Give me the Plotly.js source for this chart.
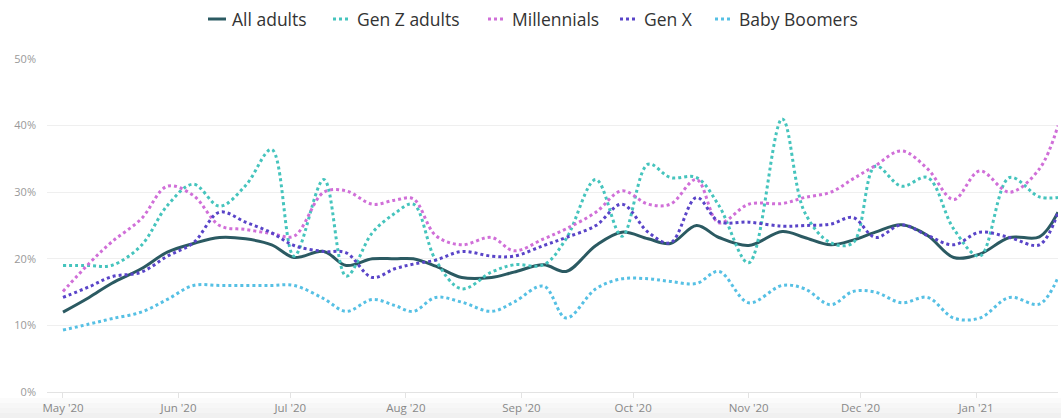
<!DOCTYPE html>
<html>
<head>
<meta charset="utf-8">
<script src="https://cdn.plot.ly/plotly-3.0.1.min.js"></script>
<style>
html,body{margin:0;padding:0;background:#fff;}
#chart{width:1061px;height:418px;}
</style>
</head>
<body>
<div id="chart"></div>
<script>
const dates = ["2020-05-01","2020-05-08","2020-05-14","2020-05-22","2020-05-29","2020-06-05","2020-06-12","2020-06-19","2020-06-26","2020-07-02","2020-07-10","2020-07-16","2020-07-23","2020-07-29","2020-08-03","2020-08-09","2020-08-16","2020-08-24","2020-08-30","2020-09-07","2020-09-13","2020-09-21","2020-09-28","2020-10-05","2020-10-11","2020-10-18","2020-10-24","2020-11-01","2020-11-10","2020-11-16","2020-11-23","2020-11-29","2020-12-05","2020-12-12","2020-12-19","2020-12-26","2021-01-02","2021-01-10","2021-01-18","2021-01-23"];

const allAdults   = [12,14.2,16.3,18.5,21,22.3,23.2,23,22.1,20.2,21.1,19,20,20,20,18.9,17.2,17.2,18,19.1,18.1,22,24,23,22.3,25,23.2,22,24.1,23.2,22.1,22.8,24,25.1,23.5,20.2,20.7,23.2,23.3,27];
const genZ        = [19,19,19,22,28,31.2,27.9,31,36.4,20.4,31.9,17.4,23.9,26.8,28.2,19.8,15.5,18,19.1,19.1,23,31.9,23.4,34.2,32.2,32.2,28,19.4,41,27,22.4,22.4,33.9,30.9,32.2,24.5,20.4,32.2,29.3,29.2];
const millennials = [15.1,19.3,22.5,26,30.9,29.5,25,24.4,23.8,23.4,30,30.2,28.2,28.8,29,23.5,22.1,23.2,21.2,23,24.5,27,30.2,28.2,28.2,31.9,25.4,28.2,28.3,29.2,30,32,34,36.2,33.5,28.9,33.2,30,33.5,40];
const genX        = [14.2,15.8,17.3,18,20.4,22.4,27,25.5,23.9,22,21.1,20.9,17.2,18.5,19.2,19.8,21.1,20.4,20.4,22,23.2,25,28.2,24,22.4,29.2,25.6,25.5,24.9,25,25.2,26.2,23.2,25.1,23.5,22.1,24,23.2,22.1,27];
const boomers     = [9.3,10.2,11,12,13.9,16,16,16,16,16,14,12.1,13.9,13,12.1,14.2,13.5,12.1,13.5,15.9,11.1,15.5,17,17,16.6,16.3,18.1,13.4,16,15.5,13.1,15.1,15,13.4,14.2,11.1,11.1,14.2,13.2,17.2];

const names  = ["All adults","Gen Z adults","Millennials","Gen X","Baby Boomers"];
const series = [allAdults, genZ, millennials, genX, boomers];
const colors = ["#2b5a62","#45c4bd","#d06fd8","#5944c8","#56c0e4"];
const dashes = ["solid","dot","dot","dot","dot"];

const traces = series.map((ys, i) => ({
  type: "scatter",
  mode: "lines",
  name: names[i],
  x: dates,
  y: ys,
  line: {shape: "spline", smoothing: 1, width: 3, color: colors[i], dash: dashes[i]},
  hoverinfo: "skip",
  showlegend: false
}));

// custom legend (pixel layout converted to paper coordinates)
const W = 1061, H = 418, ML = 47, MR = 3, MT = 59, MB = 26;
const pw = W - ML - MR, ph = H - MT - MB;
const px = x => (x - ML) / pw;
const py = y => (H - MB - y) / ph;
const legendX = [208, 333, 488, 620, 715];
const legendY = 19;
const shapes = [];
const annotations = [];
names.forEach((n, i) => {
  shapes.push({type: "line", xref: "paper", yref: "paper",
    x0: px(legendX[i]), x1: px(legendX[i] + 18), y0: py(legendY), y1: py(legendY),
    line: {color: colors[i], width: 3, dash: dashes[i]}});
  annotations.push({xref: "paper", yref: "paper", x: px(legendX[i] + 22), y: py(legendY),
    xanchor: "left", yanchor: "middle", showarrow: false, text: n,
    font: {family: "Open Sans, sans-serif", size: 17.5, color: "#333"}});
});
// light shading band under the axis labels
[[398, 403, 0.015], [403, 408, 0.03], [408, 413, 0.045], [413, 418, 0.06]].forEach(b => {
  shapes.push({type: "rect", xref: "paper", yref: "paper", layer: "below",
    x0: px(0), x1: px(W), y0: py(b[1]), y1: py(b[0]),
    fillcolor: "rgba(0,0,0," + b[2] + ")", line: {width: 0}});
});

const layout = {
  width: W, height: H,
  margin: {l: ML, r: MR, t: MT, b: MB},
  paper_bgcolor: "#fff", plot_bgcolor: "#fff",
  font: {family: "Open Sans, sans-serif", color: "#666"},
  showlegend: false,
  shapes: shapes,
  annotations: annotations,
  xaxis: {
    type: "date",
    range: ["2020-04-26 17:00", "2021-01-23 00:00"],
    tick0: "2020-05-01", dtick: "M1", tickformat: "%b '%y",
    showgrid: false, zeroline: false,
    showline: true, linecolor: "#e3e3e3", linewidth: 1,
    ticks: "outside", ticklen: 5, tickcolor: "#e3e3e3",
    tickfont: {size: 11.5, color: "#888"}
  },
  yaxis: {
    range: [0, 50], dtick: 10, ticksuffix: "%",
    showgrid: true, gridcolor: "#efefef", gridwidth: 1,
    zeroline: false, showline: false,
    tickfont: {size: 11, color: "#999"}, ticks: "", ticklabelstandoff: 10
  }
};

Plotly.newPlot("chart", traces, layout, {displayModeBar: false, staticPlot: true});
</script>
</body>
</html>
